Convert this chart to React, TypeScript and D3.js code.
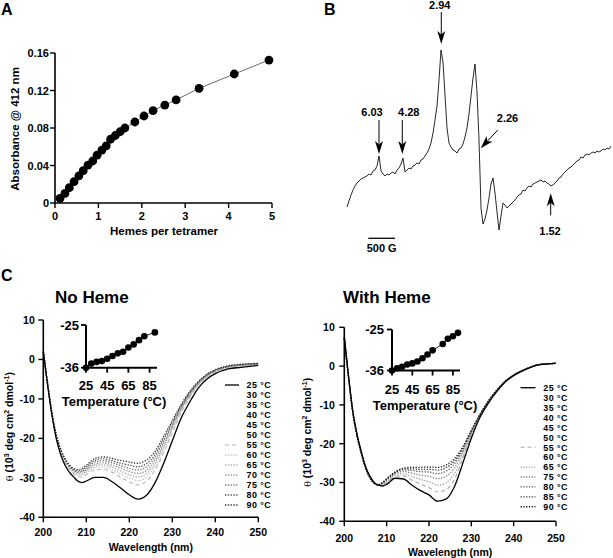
import React from 'react';
import * as d3 from 'd3';

const FONT = "'Liberation Sans', Arial, Helvetica, sans-serif";

// ---------------- Panel A data ----------------
const hemesPerTetramer = [0.115, 0.23, 0.33, 0.44, 0.55, 0.65, 0.76, 0.87, 0.97, 1.08, 1.18, 1.28, 1.39, 1.5, 1.61, 1.84, 2.05, 2.26, 2.53, 2.79, 3.32, 4.13, 4.93];
const absorbance412 = [0.005, 0.0103, 0.0164, 0.0228, 0.029, 0.0345, 0.0405, 0.0448, 0.051, 0.0565, 0.061, 0.068, 0.072, 0.076, 0.08, 0.0864, 0.0928, 0.0985, 0.1045, 0.11, 0.1223, 0.1376, 0.1525];
const absTicks = [0, 0.04, 0.08, 0.12, 0.16];
const absTickLabels = ['0', '0.04', '0.08', '0.12', '0.16'];
const hemeTicks = [0, 1, 2, 3, 4, 5];

// ---------------- Panel B data (EPR) ----------------
const eprFieldStart = 600; // G
const eprFieldStep = 37.44; // G per sample
const eprSignal = [
  33, 39, 45, 50, 54, 57, 59, 61, 62, 63,
  64, 66, 65, 69, 70, 74, 84, 69, 66, 64,
  66, 65, 67, 68, 66, 70, 72, 76, 82, 68,
  70, 72, 71, 74, 75, 77, 76, 80, 81, 84,
  87, 91, 97, 107, 120, 134, 160, 190, 178, 145,
  112, 97, 93, 90, 89, 87, 91, 92, 96, 103,
  112, 126, 144, 162, 176, 148, 100, 32, 16, 21,
  30, 42, 56, 62, 47, 28, 10, 24, 37, 35,
  32, 34, 36, 38, 40, 43, 45, 46, 50, 49,
  52, 54, 53, 56, 57, 58, 59, 60, 58, 59,
  57, 56, 54, 55, 57, 59, 62, 63, 66, 68,
  70, 72, 73, 75, 77, 79, 80, 83, 82, 85,
  86, 85, 87, 88, 87, 89, 88, 89, 91, 90,
  92, 91, 94,
];
const eprGLabels = ['6.03', '4.28', '2.94', '2.26', '1.52'];
const eprGFields = [1199, 1635, 2365, 3103, 4413];
const eprTipSignal = [86, 86, 196, 91.7, 46.7];
const scaleBarStart = 999;
const scaleBarLength = 500;

// ---------------- Panel C data (CD) ----------------
const cdWave = [200, 201, 202, 203, 204, 205, 206, 207, 208, 209, 210, 212, 214, 216, 218, 220, 222, 224, 226, 228, 230, 232, 234, 236, 238, 240, 243, 246, 250];

const noHeme25 = [2.0, -6.5, -14.0, -20.0, -24.0, -26.7, -28.5, -29.7, -30.8, -31.2, -30.8, -29.9, -29.9, -31.0, -32.6, -34.3, -35.4, -34.4, -31.2, -26.3, -20.6, -15.0, -10.9, -7.3, -5.0, -3.6, -2.4, -2.0, -1.5];
const noHeme55 = [2.0, -6.3, -13.8, -19.6, -23.4, -26.0, -27.7, -28.9, -29.6, -29.8, -29.2, -28.0, -27.8, -28.6, -29.8, -31.0, -31.8, -30.8, -28.0, -23.6, -18.6, -13.6, -9.8, -6.6, -4.5, -3.2, -2.1, -1.7, -1.3];
const noHeme60 = [2.0, -6.2, -13.7, -19.5, -23.2, -25.8, -27.5, -28.6, -29.3, -29.3, -28.7, -27.4, -27.2, -27.9, -29.0, -30.0, -30.7, -29.8, -27.1, -22.8, -18.0, -13.2, -9.5, -6.4, -4.4, -3.1, -2.0, -1.6, -1.2];
const noHeme65 = [2.0, -6.2, -13.7, -19.4, -23.1, -25.7, -27.3, -28.4, -29.0, -29.0, -28.3, -26.9, -26.7, -27.3, -28.3, -29.2, -29.8, -28.9, -26.3, -22.1, -17.4, -12.8, -9.2, -6.3, -4.3, -3.0, -1.9, -1.5, -1.2];
const noHeme70 = [2.0, -6.1, -13.6, -19.3, -22.9, -25.5, -27.2, -28.2, -28.7, -28.6, -28.0, -26.5, -26.2, -26.8, -27.6, -28.4, -28.9, -28.1, -25.6, -21.5, -17.0, -12.5, -9.0, -6.1, -4.2, -2.9, -1.8, -1.4, -1.1];
const noHeme75 = [2.0, -6.1, -13.6, -19.2, -22.8, -25.3, -27.0, -28.0, -28.5, -28.3, -27.6, -26.0, -25.7, -26.2, -26.9, -27.6, -28.0, -27.2, -24.8, -20.8, -16.5, -12.2, -8.7, -5.9, -4.0, -2.8, -1.8, -1.4, -1.1];
const noHeme80 = [2.0, -6.0, -13.6, -19.1, -22.7, -25.2, -26.8, -27.8, -28.2, -28.0, -27.2, -25.6, -25.2, -25.7, -26.3, -26.8, -27.2, -26.4, -24.1, -20.2, -16.0, -11.9, -8.5, -5.8, -3.9, -2.7, -1.7, -1.3, -1.0];
const noHeme90 = [2.0, -6.0, -13.5, -19.0, -22.5, -25.0, -26.6, -27.6, -27.9, -27.6, -26.8, -25.1, -24.7, -25.1, -25.6, -26.0, -26.3, -25.5, -23.3, -19.5, -15.5, -11.5, -8.2, -5.6, -3.8, -2.6, -1.6, -1.2, -1.0];

const heme25 = [7.6, -2.5, -11.5, -17.5, -22.0, -25.8, -28.3, -29.9, -30.7, -30.9, -30.5, -28.9, -29.1, -30.7, -32.1, -33.2, -34.8, -34.3, -31.1, -25.0, -18.6, -13.3, -9.6, -6.6, -4.1, -2.5, -0.8, 0.3, 0.7];
const heme55 = [7.4, -2.6, -11.6, -17.6, -22.1, -25.9, -28.4, -30.0, -30.7, -30.7, -30.1, -28.5, -28.3, -29.4, -30.4, -31.3, -32.4, -31.9, -29.2, -23.8, -18.0, -13.0, -9.4, -6.4, -4.0, -2.4, -0.7, 0.4, 0.7];
const heme65 = [7.3, -2.7, -11.7, -17.7, -22.2, -26.0, -28.5, -30.0, -30.7, -30.5, -29.8, -28.1, -27.8, -28.5, -29.2, -29.8, -30.7, -30.1, -27.7, -23.0, -17.6, -12.9, -9.3, -6.4, -4.0, -2.4, -0.7, 0.4, 0.7];
const heme75 = [7.2, -2.8, -11.8, -17.8, -22.3, -26.1, -28.6, -30.1, -30.6, -30.3, -29.5, -27.8, -27.2, -27.6, -28.1, -28.4, -29.0, -28.4, -26.3, -22.2, -17.2, -12.7, -9.2, -6.3, -3.9, -2.3, -0.7, 0.4, 0.7];
const heme80 = [7.1, -2.9, -11.9, -17.9, -22.4, -26.1, -28.6, -30.2, -30.6, -30.2, -29.3, -27.6, -26.8, -26.9, -27.2, -27.3, -27.7, -27.1, -25.2, -21.6, -16.9, -12.6, -9.1, -6.3, -3.9, -2.3, -0.7, 0.4, 0.7];
const heme85 = [7.1, -3.0, -12.0, -18.0, -22.5, -26.2, -28.7, -30.2, -30.6, -30.1, -29.1, -27.4, -26.5, -26.5, -26.6, -26.6, -26.8, -26.2, -24.5, -21.1, -16.7, -12.6, -9.0, -6.2, -3.9, -2.3, -0.7, 0.4, 0.7];
const heme90 = [7.0, -3.0, -12.0, -18.0, -22.5, -26.2, -28.7, -30.2, -30.6, -30.0, -29.0, -27.3, -26.3, -26.1, -26.1, -26.0, -26.1, -25.5, -23.9, -20.8, -16.5, -12.5, -9.0, -6.2, -3.9, -2.3, -0.7, 0.4, 0.7];

const cdYTicks = [10, 0, -10, -20, -30, -40];
const cdXTicks = [200, 210, 220, 230, 240, 250];

// inset: theta222 vs temperature
const noHemeTemps = [25, 30, 35, 40, 45, 50, 55, 60, 65, 70, 75, 80, 90];
const noHemeTheta222 = [-36, -34.9, -34.5, -34.3, -33.7, -33.0, -32.3, -31.9, -30.8, -30.0, -28.9, -27.9, -26.9];
const hemeTemps = [25, 30, 35, 40, 45, 50, 55, 60, 65, 75, 80, 85, 90];
const hemeTheta222 = [-36, -35.4, -35.0, -34.4, -34.1, -33.6, -32.7, -31.7, -30.6, -28.9, -27.5, -26.8, -25.9];
const insetYTicks = [-25, -36];
const insetXTicks = [25, 45, 65, 85];

// ---------------- styles ----------------
type Sty = { color: string; dash: string | null; width: number } | null;
const SOLID: Sty = { color: '#000', dash: null, width: 1.3 };
const dashed = (c: string): Sty => ({ color: c, dash: '4,3', width: 1.1 });
const dotted = (c: string): Sty => ({ color: c, dash: '1.3,1.5', width: 1.3 });

const noHemeCurves: { t: number; v: number[] }[] = [
  { t: 55, v: noHeme55 }, { t: 60, v: noHeme60 }, { t: 65, v: noHeme65 }, { t: 70, v: noHeme70 },
  { t: 75, v: noHeme75 }, { t: 80, v: noHeme80 }, { t: 90, v: noHeme90 }, { t: 25, v: noHeme25 },
];
const noHemeStyle: Record<number, Sty> = {
  25: SOLID, 30: null, 35: null, 40: null, 45: null, 50: null,
  55: dashed('#b4b4b4'), 60: dotted('#c2c2c2'), 65: dotted('#a8a8a8'), 70: dotted('#8e8e8e'),
  75: dotted('#727272'), 80: dotted('#4e4e4e'), 90: dotted('#2e2e2e'),
};
const hemeCurves: { t: number; v: number[] }[] = [
  { t: 55, v: heme55 }, { t: 65, v: heme65 }, { t: 75, v: heme75 }, { t: 80, v: heme80 },
  { t: 85, v: heme85 }, { t: 90, v: heme90 }, { t: 25, v: heme25 },
];
const hemeStyle: Record<number, Sty> = {
  25: SOLID, 30: null, 35: null, 40: null, 45: null, 50: null,
  55: dashed('#aaaaaa'), 60: null, 65: dotted('#a0a0a0'), 75: dotted('#808080'),
  80: dotted('#585858'), 85: dotted('#3a3a3a'), 90: dotted('#1e1e1e'),
};

function Arrow({ tx, ty, dx, dy }: { tx: number; ty: number; dx: number; dy: number }) {
  const len = Math.hypot(dx, dy);
  const ux = dx / len, uy = dy / len;
  const nx = -uy, ny = ux;
  const hl = 13, hw = 4, notch = 9.5;
  const p = [
    [tx, ty],
    [tx + ux * hl + nx * hw, ty + uy * hl + ny * hw],
    [tx + ux * notch, ty + uy * notch],
    [tx + ux * hl - nx * hw, ty + uy * hl - ny * hw],
  ];
  return (
    <g>
      <line x1={tx + ux * notch} y1={ty + uy * notch} x2={tx + dx} y2={ty + dy} stroke="#000" strokeWidth={1} />
      <path d={'M' + p.map((q) => q.join(',')).join('L') + 'Z'} fill="#000" />
    </g>
  );
}

function ThetaLabel({ x, y }: { x: number; y: number }) {
  return (
    <text transform={`translate(${x},${y}) rotate(-90)`} textAnchor="middle" fontSize={10.5} fontWeight="bold">
      <tspan fontWeight="normal" fontFamily="'DejaVu Serif', serif" fontSize={9.5}>θ</tspan>
      <tspan>{'  (10'}</tspan>
      <tspan dy={-4} fontSize={7}>3</tspan>
      <tspan dy={4}>{' deg cm'}</tspan>
      <tspan dy={-4} fontSize={7}>2</tspan>
      <tspan dy={4}>{' dmol'}</tspan>
      <tspan dy={-4} fontSize={7}>-1</tspan>
      <tspan dy={4}>)</tspan>
    </text>
  );
}

type CDCfg = {
  x0: number; x1: number; yTop: number; yBot: number;
  tickLabelGap: number; xLabelY: number; titleY: number;
  thetaX: number;
  curves: { t: number; v: number[] }[];
  style: Record<number, Sty>;
  temps: number[];
  legendLine: [number, number]; legendTextX: number; legendY0: number; legendStep: number;
  inset: { x0: number; x1: number; yTop: number; yBot: number; temps: number[]; vals: number[]; tickY: number; titleY: number; titleX: number; labelRight: number };
  title: string; titleX: number; titleBaseY: number;
};

function CDPanel({ c }: { c: CDCfg }) {
  const x = d3.scaleLinear().domain([200, 250]).range([c.x0, c.x1]);
  const y = d3.scaleLinear().domain([-40, 10]).range([c.yBot, c.yTop]);
  const line = d3.line<number>().x((_, i) => x(cdWave[i])).y((d) => y(d)).curve(d3.curveMonotoneX);
  const ix = d3.scaleLinear().domain([25, 92]).range([c.inset.x0, c.inset.x1]);
  const iy = d3.scaleLinear().domain([-36, -25]).range([c.inset.yBot, c.inset.yTop]);
  const insetLine = d3.line<number>().x((_, i) => ix(c.inset.temps[i])).y((d) => iy(d));
  return (
    <g>
      <text x={c.titleX} y={c.titleBaseY} fontSize={17} fontWeight="bold">{c.title}</text>
      {c.curves.map((cv) => {
        const s = c.style[cv.t];
        if (!s) return null;
        return (
          <path key={cv.t} d={line(cv.v) || ''} fill="none" stroke={s.color} strokeWidth={s.width}
            strokeDasharray={s.dash || undefined} />
        );
      })}
      {/* axes */}
      <line x1={c.x0} x2={c.x0} y1={c.yTop} y2={c.yBot} stroke="#000" strokeWidth={1.6} />
      <line x1={c.x0} x2={c.x1} y1={c.yBot} y2={c.yBot} stroke="#000" strokeWidth={1.6} />
      {cdYTicks.map((t) => (
        <g key={'y' + t}>
          <line x1={c.x0 - 5} x2={c.x0} y1={y(t)} y2={y(t)} stroke="#000" strokeWidth={1.4} />
          <text x={c.x0 - c.tickLabelGap} y={y(t) + 3.8} textAnchor="end" fontSize={10.5} fontWeight="bold">{t}</text>
        </g>
      ))}
      {cdXTicks.map((t) => (
        <g key={'x' + t}>
          <line x1={x(t)} x2={x(t)} y1={c.yBot} y2={c.yBot + 5} stroke="#000" strokeWidth={1.4} />
          <text x={x(t)} y={c.xLabelY} textAnchor="middle" fontSize={10.5} fontWeight="bold">{t}</text>
        </g>
      ))}
      <text x={(c.x0 + c.x1) / 2} y={c.titleY} textAnchor="middle" fontSize={10.5} fontWeight="bold">Wavelength (nm)</text>
      <ThetaLabel x={c.thetaX} y={(c.yTop + c.yBot) / 2 + 8} />
      {/* legend */}
      {c.temps.map((t, i) => {
        const s = c.style[t];
        const yy = c.legendY0 + i * c.legendStep;
        return (
          <g key={'lg' + t}>
            {s && (
              <line x1={c.legendLine[0]} x2={c.legendLine[1]} y1={yy} y2={yy} stroke={s.color}
                strokeWidth={s.width} strokeDasharray={s.dash || undefined} />
            )}
            <text x={c.legendTextX} y={yy + 3.3} fontSize={8.9} letterSpacing={0.45} fontWeight="bold">{t} °C</text>
          </g>
        );
      })}
      {/* inset */}
      <g>
        <path d={insetLine(c.inset.vals) || ''} fill="none" stroke="#000" strokeWidth={0.9} />
        {c.inset.vals.map((v, i) => (
          <circle key={i} cx={ix(c.inset.temps[i])} cy={iy(v)} r={3.3} fill="#000" />
        ))}
        <line x1={c.inset.x0} x2={c.inset.x0} y1={c.inset.yTop} y2={c.inset.yBot} stroke="#000" strokeWidth={2} />
        <line x1={c.inset.x0} x2={c.inset.x1} y1={c.inset.yBot} y2={c.inset.yBot} stroke="#000" strokeWidth={2} />
        {insetYTicks.map((t) => (
          <g key={'iy' + t}>
            <line x1={c.inset.x0 - 5} x2={c.inset.x0} y1={iy(t)} y2={iy(t)} stroke="#000" strokeWidth={1.8} />
            <text x={c.inset.labelRight} y={iy(t) + 4.6} textAnchor="end" fontSize={13} fontWeight="bold">{t}</text>
          </g>
        ))}
        {insetXTicks.map((t) => (
          <g key={'ix' + t}>
            <line x1={ix(t)} x2={ix(t)} y1={c.inset.yBot} y2={c.inset.yBot + 5} stroke="#000" strokeWidth={1.8} />
            <text x={ix(t)} y={c.inset.tickY} textAnchor="middle" fontSize={13} fontWeight="bold">{t}</text>
          </g>
        ))}
        <text x={c.inset.titleX} y={c.inset.titleY} textAnchor="middle" fontSize={13} fontWeight="bold">Temperature (°C)</text>
      </g>
    </g>
  );
}

export default function App() {
  // Panel A
  const xA = d3.scaleLinear().domain([0, 5]).range([55, 272]);
  const yA = d3.scaleLinear().domain([0, 0.16]).range([203, 53]);
  const lineA = d3.line<number>().x((d) => xA(d)).y((_, i) => yA(absorbance412[i]));

  // Panel B
  const fieldEnd = eprFieldStart + (eprSignal.length - 1) * eprFieldStep;
  const xB = d3.scaleLinear().domain([eprFieldStart, fieldEnd]).range([347, 611]);
  const yB = d3.scaleLinear().domain([0, 240]).range([240, 0]);
  const lineB = d3.line<number>().x((_, i) => xB(eprFieldStart + i * eprFieldStep)).y((d) => yB(d));
  const arrowVec: [number, number][] = [[0, -34], [0, -34], [0, -32], [17, -18.3], [0, 22]];
  const labelOff: [number, number][] = [[-7, -4], [6.5, -4], [-1.5, -3], [9.8, -7.7], [-0.7, 20]];

  const left: CDCfg = {
    x0: 43.3, x1: 258.3, yTop: 320, yBot: 517.3, tickLabelGap: 8.5, xLabelY: 536, titleY: 551, thetaX: 12.5,
    curves: noHemeCurves, style: noHemeStyle, temps: noHemeTemps,
    legendLine: [225, 239], legendTextX: 246.5, legendY0: 385, legendStep: 10,
    inset: { x0: 86, x1: 157, yTop: 325, yBot: 367.7, temps: noHemeTemps, vals: noHemeTheta222, tickY: 390, titleY: 406, titleX: 114, labelRight: 79 },
    title: 'No Heme', titleX: 55, titleBaseY: 303,
  };
  const right: CDCfg = {
    x0: 344.3, x1: 556, yTop: 327.3, yBot: 521.3, tickLabelGap: 9.5, xLabelY: 541.5, titleY: 556, thetaX: 311,
    curves: hemeCurves, style: hemeStyle, temps: hemeTemps,
    legendLine: [520.5, 535.5], legendTextX: 543.3, legendY0: 387.7, legendStep: 9.92,
    inset: { x0: 392, x1: 460, yTop: 329.5, yBot: 370.5, temps: hemeTemps, vals: hemeTheta222, tickY: 393.5, titleY: 409.5, titleX: 425, labelRight: 384 },
    title: 'With Heme', titleX: 343, titleBaseY: 303,
  };

  return (
    <svg width={613} height={558} style={{ position: 'absolute', left: 0, top: 0, background: '#fff' }} fontFamily={FONT}>
      <rect width={613} height={558} fill="#fff" />
      {/* Panel letters */}
      <text x={1} y={15} fontSize={16} fontWeight="bold">A</text>
      <text x={324} y={15} fontSize={16} fontWeight="bold">B</text>
      <text x={1} y={281} fontSize={16} fontWeight="bold">C</text>

      {/* Panel A */}
      <g>
        <path d={lineA(hemesPerTetramer) || ''} fill="none" stroke="#444" strokeWidth={0.8} />
        {hemesPerTetramer.map((h, i) => (
          <circle key={i} cx={xA(h)} cy={yA(absorbance412[i])} r={4.4} fill="#000" />
        ))}
        <line x1={55} x2={55} y1={yA(0.16)} y2={yA(0)} stroke="#000" strokeWidth={1.6} />
        <line x1={xA(0)} x2={xA(5)} y1={203} y2={203} stroke="#000" strokeWidth={1.6} />
        {absTicks.map((t, i) => (
          <g key={'ya' + t}>
            <line x1={50} x2={55} y1={yA(t)} y2={yA(t)} stroke="#000" strokeWidth={1.4} />
            <text x={49} y={yA(t) + 4} textAnchor="end" fontSize={11} fontWeight="bold">{absTickLabels[i]}</text>
          </g>
        ))}
        {hemeTicks.map((t) => (
          <g key={'xa' + t}>
            <line x1={xA(t)} x2={xA(t)} y1={203} y2={208} stroke="#000" strokeWidth={1.4} />
            <text x={xA(t)} y={220} textAnchor="middle" fontSize={11} fontWeight="bold">{t}</text>
          </g>
        ))}
        <text x={164} y={235} textAnchor="middle" fontSize={11.5} fontWeight="bold">Hemes per tetramer</text>
        <text transform="translate(19,129) rotate(-90)" textAnchor="middle" fontSize={11.5} fontWeight="bold">Absorbance @ 412 nm</text>
      </g>

      {/* Panel B */}
      <g>
        <path d={lineB(eprSignal) || ''} fill="none" stroke="#111" strokeWidth={0.9} strokeLinejoin="round" />
        {eprGLabels.map((g, i) => {
          const tx = xB(eprGFields[i]);
          const ty = yB(eprTipSignal[i]);
          const [dx, dy] = arrowVec[i];
          const [lx, ly] = labelOff[i];
          return (
            <g key={g}>
              <Arrow tx={tx} ty={ty} dx={dx} dy={dy} />
              <text x={tx + dx + lx} y={ty + dy + ly} textAnchor="middle" fontSize={11} fontWeight="bold">{g}</text>
            </g>
          );
        })}
        <line x1={xB(scaleBarStart)} x2={xB(scaleBarStart + scaleBarLength)} y1={238.3} y2={238.3} stroke="#000" strokeWidth={1.3} />
        <text x={(xB(scaleBarStart) + xB(scaleBarStart + scaleBarLength)) / 2} y={251.5} textAnchor="middle" fontSize={11} fontWeight="bold">500 G</text>
      </g>

      {/* Panel C */}
      <CDPanel c={left} />
      <CDPanel c={right} />
    </svg>
  );
}
